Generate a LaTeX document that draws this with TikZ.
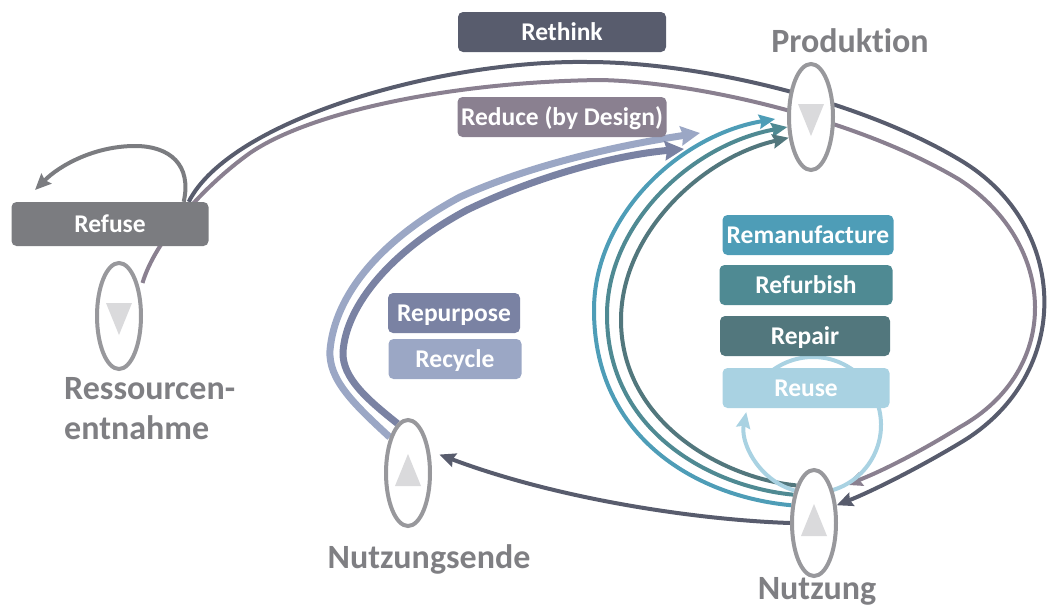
\documentclass[tikz,border=0pt]{standalone}
\usepackage{fontspec}
\setmainfont{Carlito}[Ligatures=NoCommon]
\usetikzlibrary{shapes.geometric,arrows.meta,backgrounds,positioning}

\definecolor{rethinkc}{HTML}{585C6D}
\definecolor{reducec}{HTML}{8A8090}
\definecolor{refusec}{HTML}{7B7C80}
\definecolor{repurposec}{HTML}{7A82A3}
\definecolor{recyclec}{HTML}{9BA7C5}
\definecolor{remanc}{HTML}{4E9DB7}
\definecolor{refurbc}{HTML}{4F8A93}
\definecolor{repairc}{HTML}{52777D}
\definecolor{reusec}{HTML}{A9D2E2}
\definecolor{ringgray}{HTML}{98989C}
\definecolor{trigray}{HTML}{DADADC}
\definecolor{labelgray}{HTML}{7F7F83}

\begin{document}
\begin{tikzpicture}[x=1pt,y=-1pt,>={Stealth[inset=2pt,length=16pt,width=14pt]}]
\tikzstyle{stage node}=[ellipse,draw=ringgray,line width=4pt,fill=white,minimum width=44pt,minimum height=106pt,inner sep=0]
\tikzstyle{stage label}=[text=labelgray,font=\fontsize{34}{40}\selectfont\bfseries,inner sep=0]

\tikzset{
	r box/.style={rounded corners=5pt,text=white,font=\fontsize{25.5}{30}\selectfont\bfseries,inner sep=0,minimum height=40pt,text height=16.5pt,text depth=0pt},
	tri/.style={fill=trigray},
	loop line/.style={line width=4pt,->},
	fat line/.style={line width=7pt,->,>={Stealth[inset=2pt,length=19pt,width=19pt]}}
}

\useasboundingbox (0,0) rectangle (1053,608);

      % stages
      \node[stage node] (prod) at (811,117) {};
      \node[stage node] (ress) at (119,316) {};
      \node[stage node] (ende) at (408,473) {};
      \node[stage node] (nutz) at (814,523) {};

      \fill[tri,shift={(prod)}] (-13,-13) -- (13,-13) -- (0,19) -- cycle;
      \fill[tri,shift={(ress)}] (-13,-13) -- (13,-13) -- (0,19) -- cycle;
      \fill[tri,shift={(ende)}] (-13,13) -- (13,13) -- (0,-19) -- cycle;
      \fill[tri,shift={(nutz)}] (-13,13) -- (13,13) -- (0,-19) -- cycle;

      \node[stage label,anchor=base] (prodlabel) at (850,52) {Produktion};
      \node[stage label,anchor=north west,align=left] (resslabel) at (64,377) {Ressourcen-\\entnahme};
      \node[stage label,anchor=base] (endelabel) at (429,568) {Nutzungsende};
      \node[stage label,anchor=base] (nutzlabel) at (817,599) {Nutzung};

      % R-strategies
      \node[r box,fill=rethinkc,minimum width=208pt] (rethink) at (562,32) {Rethink};
      \node[r box,fill=reducec,minimum width=209pt] (reduce) at (562,117) {Reduce (by Design)};
      \node[r box,fill=refusec,minimum width=197pt,minimum height=44pt] (refuse) at (110,224) {Refuse};
      \node[r box,fill=repurposec,minimum width=132pt] (repurpose) at (454,313) {Repurpose};
      \node[r box,fill=recyclec,minimum width=133pt] (recycle) at (455,359) {Recycle};
      \node[r box,fill=remanc,minimum width=171pt] (reman) at (808,235) {Remanufacture};
      \node[r box,fill=refurbc,minimum width=173pt] (refurb) at (806,285) {Refurbish};
      \node[r box,fill=repairc,minimum width=170pt] (repair) at (805,336) {Repair};
      \node[r box,fill=reusec,minimum width=167pt] (reuse) at (806,388) {Reuse};

      \coordinate (refusetip) at (35,190);
      \coordinate (recycletip) at (700,133);
      \coordinate (repurposetip) at (684,149);
      \coordinate (reusehub) at (813,425);

\begin{scope}[on background layer]
    % big loops
    \draw[loop line,draw=rethinkc] ([xshift=-20pt]refuse.north east) .. controls (230,120) and (440,60) .. (587,62)
        .. controls (700,62) and (860,100) .. (960,160) .. controls (1070,225) and (1075,375) .. (960,443)
        .. controls (915,470) and (870,492) .. (nutz.38);
    \draw[loop line,draw=reducec,shorten <=8pt,shorten >=14pt] (ress.50) .. controls (155,240) and (205,185) .. (250,153)
        .. controls (310,112) and (450,82) .. (600,80) .. controls (700,82) and (860,120) .. (960,180)
        .. controls (1058,245) and (1062,370) .. (960,427) .. controls (920,452) and (880,472) .. (nutz.60);
    \draw[loop line,draw=refusec] ([xshift=-25pt]refuse.north east) .. controls (192,165) and (170,146) .. (135,146)
        .. controls (95,146) and (60,165) .. (refusetip);
    \draw[loop line,draw=rethinkc,shorten >=10pt] (nutz.west) .. controls (700,520) and (560,500) .. (ende.45);

    % recycle / repurpose
    \draw[fat line,draw=recyclec] (ende.117) .. controls (355,405) and (328,380) .. (330,350)
        .. controls (335,295) and (380,240) .. (460,197) .. controls (530,165) and (620,145) .. (recycletip);
    \draw[fat line,draw=repurposec] (ende.102) .. controls (368,400) and (342,378) .. (343,352)
        .. controls (346,305) and (392,250) .. (467,210) .. controls (535,177) and (615,155) .. (repurposetip);

    % remanufacture, refurbish, repair
    \draw[loop line,draw=remanc,shorten >=12pt] (nutz.142) .. controls (700,497) and (594,440) .. (594,310)
        .. controls (594,215) and (680,135) .. (prod.180);
    \draw[loop line,draw=refurbc] (nutz.126) .. controls (712,487) and (607,432) .. (607,315)
        .. controls (607,225) and (690,145) .. (prod.203);
    \draw[loop line,draw=repairc] (nutz.115) .. controls (722,478) and (621,422) .. (621,320)
        .. controls (621,235) and (700,158) .. (prod.223);

    % reuse
    \draw[loop line,draw=reusec] ([shift={(150:68pt)}]reusehub) arc[start angle=150,end angle=-191,radius=68pt];
\end{scope}
\end{tikzpicture}
\end{document}
